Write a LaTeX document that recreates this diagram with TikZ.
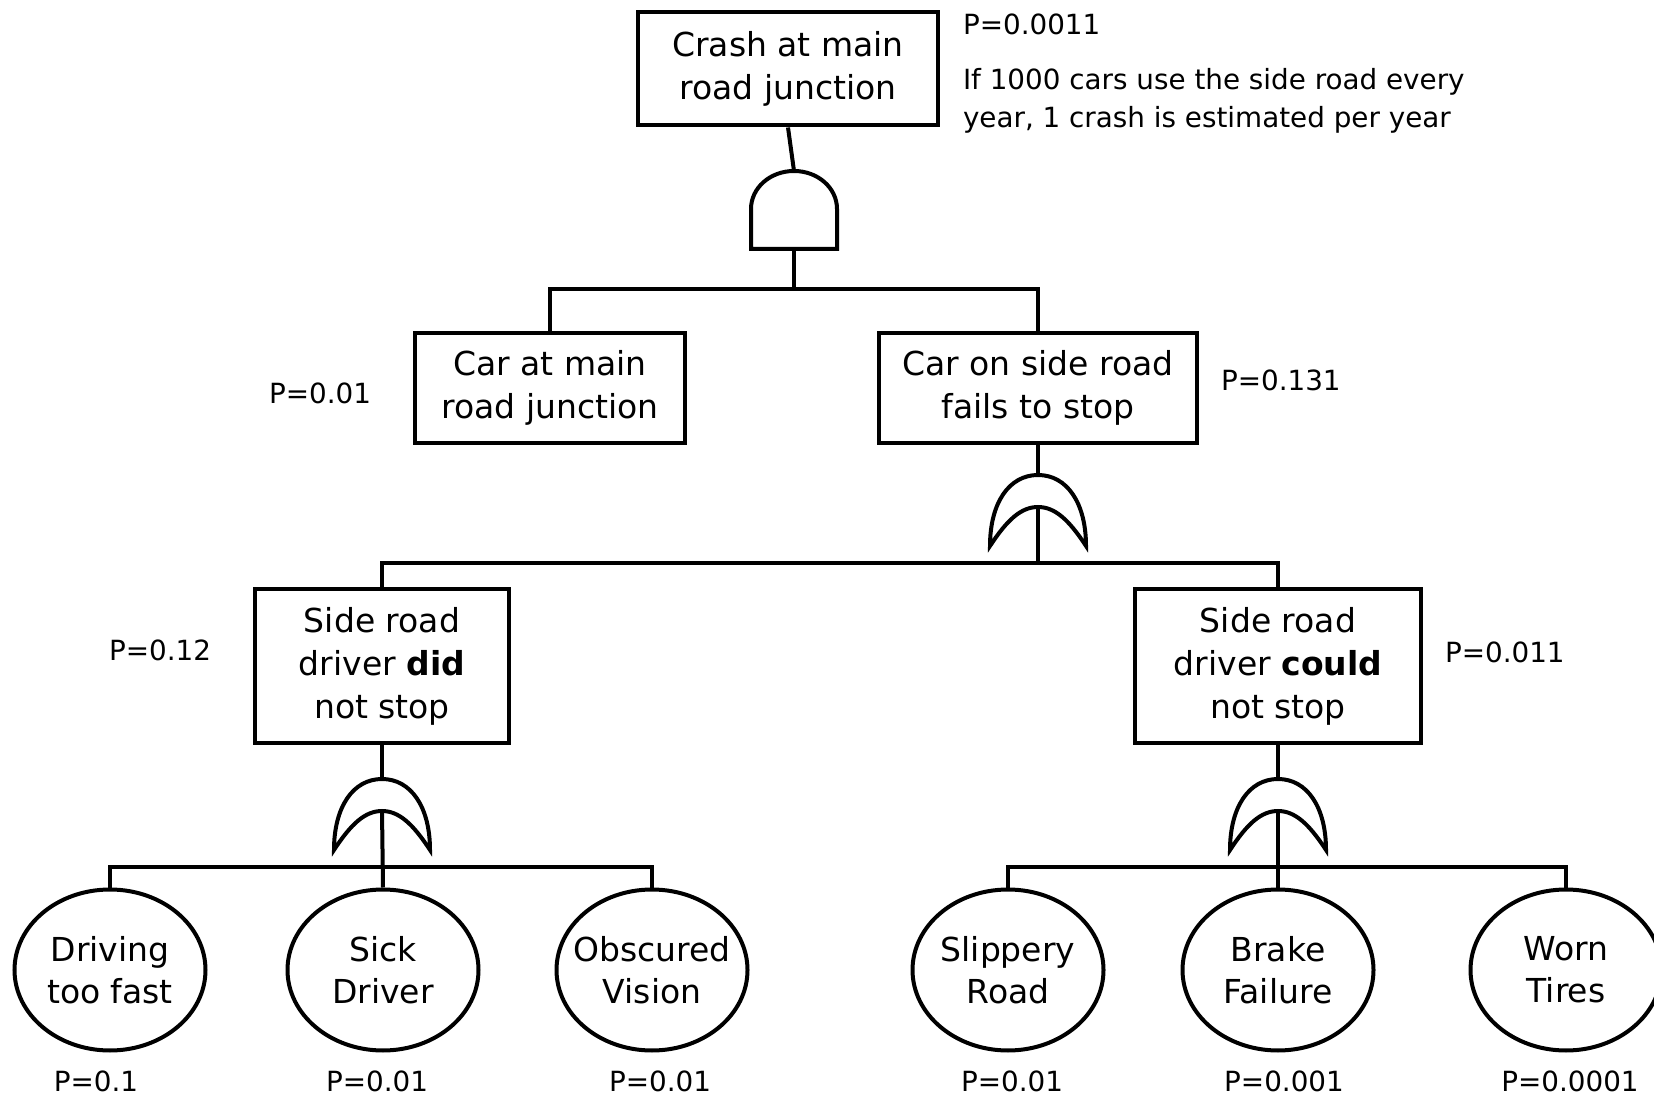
\documentclass[tikz,border=0pt]{standalone}
\usepackage{fontspec}
\setmainfont{DejaVu Sans}
\usetikzlibrary{shapes.geometric, positioning}

\tikzset{
  andgate/.pic={
    \draw (-43,0) -- (-43,-40) .. controls (-43,-61) and (-24,-78) .. (0,-78)
      .. controls (24,-78) and (43,-61) .. (43,-40) -- (43,0) -- cycle;
    \coordinate (-top) at (0,-78);
    \coordinate (-in) at (0,0);
    \coordinate (-bar) at (0,40);
  },
  orgate/.pic={
    \draw (-48,0) .. controls (-48,-43) and (-29,-71) .. (0,-71)
      .. controls (29,-71) and (48,-43) .. (48,0)
      .. controls (31,-26) and (17,-39) .. (0,-39)
      .. controls (-17,-39) and (-31,-26) .. (-48,0) -- cycle;
    \coordinate (-top) at (0,-71);
    \coordinate (-in) at (0,-39);
    \coordinate (-bar) at (0,17);
  }
}

\begin{document}
\begin{tikzpicture}[
  x=0.5pt, y=-0.5pt, line width=2pt,
  box/.style={rectangle, draw, inner sep=0pt, align=center,
              font=\fontsize{16.5pt}{21.5pt}\selectfont},
  basic/.style={ellipse, draw, inner xsep=-12pt, inner ysep=0pt, align=center,
                minimum width=95.5pt, minimum height=80.5pt,
                font=\fontsize{16.5pt}{21pt}\selectfont},
  prob/.style={inner sep=0pt, font=\fontsize{13.9pt}{19pt}\selectfont}
]
\useasboundingbox (0,0) rectangle (1654,1095);

% Top event
\node[box, minimum width=150pt, minimum height=56.5pt] (crash) at (788,69) {Crash at main\\road junction};

% Intermediate events
\node[box, minimum width=135pt, minimum height=55pt] (carmain) at (550,388) {Car at main\\road junction};
\node[box, minimum width=159pt, minimum height=55pt] (fails) at (1038,388) {Car on side road\\fails to stop};
\node[box, minimum width=127pt, minimum height=77pt] (did) at (382,666) {Side road\\driver \textbf{did}\\not stop};
\node[box, minimum width=143pt, minimum height=77pt] (could) at (1278,666) {Side road\\driver \textbf{could}\\not stop};

% Basic events
\node[basic] (fast) at (110,970) {Driving\\too fast};
\node[basic] (sick) at (383,970) {Sick\\Driver};
\node[basic] (vision) at (652,970) {Obscured\\Vision};
\node[basic] (slip) at (1008,970) {Slippery\\Road};
\node[basic] (brake) at (1278,970) {Brake\\Failure};
\node[basic] (tires) at (1566,970) {Worn\\Tires};

% Gates
\pic (and1) at (794,249) {andgate};
\pic (or1) at (1038,546) {orgate};
\pic (or2) at (382,850) {orgate};
\pic (or3) at (1278,850) {orgate};

% Connectors
\draw (crash.south) -- (and1-top);
\draw (and1-in) -- (and1-bar);
\draw (carmain.north) |- (and1-bar) -| (fails.north);
\draw (fails.south) -- (or1-top);
\draw (or1-in) -- (or1-bar);
\draw (did.north) |- (or1-bar) -| (could.north);
\draw (did.south) -- (or2-top);
\draw (or2-in) -- (sick.north);
\draw (fast.north) |- (or2-bar) -| (vision.north);
\draw (could.south) -- (or3-top);
\draw (or3-in) -- (brake.north);
\draw (slip.north) |- (or3-bar) -| (tires.north);

% Probabilities
\node[prob, anchor=west] (pcrash) at (961,24) {P=0.0011};
\node[prob, anchor=west, align=left] (note) at (961,101) {If 1000 cars use the side road every\\year, 1 crash is estimated per year};
\node[prob, left=20pt of carmain, yshift=-2.5pt] (pcarmain) {P=0.01};
\node[prob, right=10pt of fails, yshift=4pt] (pfails) {P=0.131};
\node[prob, left=20pt of did, yshift=8pt] (pdid) {P=0.12};
\node[prob, right=10pt of could, yshift=7pt] (pcould) {P=0.011};
\node[prob, below=8pt of fast, xshift=-7pt] (pfast) {P=0.1};
\node[prob, below=8pt of sick, xshift=-3pt] (psick) {P=0.01};
\node[prob, below=8pt of vision, xshift=4pt] (pvision) {P=0.01};
\node[prob, below=8pt of slip, xshift=2pt] (pslip) {P=0.01};
\node[prob, below=8pt of brake, xshift=3pt] (pbrake) {P=0.001};
\node[prob, below=8pt of tires, xshift=2pt] (ptires) {P=0.0001};

\end{tikzpicture}
\end{document}
